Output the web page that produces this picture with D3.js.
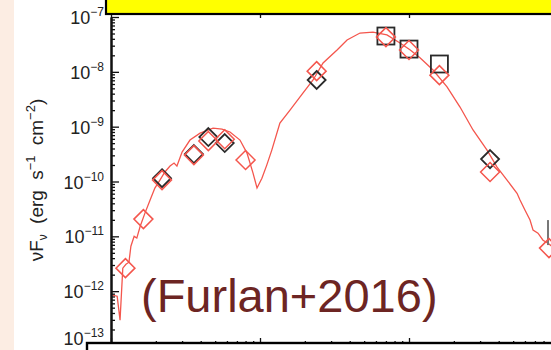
<!doctype html>
<html>
<head>
<meta charset="UTF-8">
<title>sed</title>
<script src="https://d3js.org/d3.v7.min.js"></script>
<style>
  body { margin:0; background:#fff; }
  svg { display:block; font-family:"Liberation Sans", Arial, sans-serif; }
</style>
</head>
<body>
<svg width="551" height="350"></svg>
<script>
// model SED (wavelength in micron, nuFnu in erg s-1 cm-2)
var modelWave = [1.02,1.10,1.15,1.20,1.26,1.32,1.36,1.43,1.49,1.57,1.69,1.83,1.97,2.13,2.30,2.49,2.65,2.77,3.00,3.39,3.96,4.84,5.56,6.29,7.34,8.18,8.98,9.55,10.3,11.1,12.0,13.6,15.9,19.4,22.7,26.5,32.9,38.4,46.9,57.3,71.1,87.0,102,119,145,180,220,269,334,390,455,531,556,601,649,680,734,793,857,925];
var modelFlux = [8.45e-13,8.1e-13,2.96e-13,2.63e-12,3.1e-12,3.38e-12,6.6e-12,1.0e-11,9.3e-12,1.53e-11,2.65e-11,4.58e-11,7.6e-11,1.06e-10,1.49e-10,1.91e-10,2.17e-10,1.91e-10,3.44e-10,5.7e-10,7.6e-10,9.4e-10,9.0e-10,8.0e-10,5.7e-10,3.3e-10,1.42e-10,7.6e-11,1.15e-10,1.99e-10,3.74e-10,1.16e-9,2.01e-9,4.1e-9,7.1e-9,1.45e-8,2.5e-8,3.8e-8,5.1e-8,5.3e-8,4.7e-8,3.36e-8,2.5e-8,1.79e-8,1.08e-8,5.3e-9,2.28e-9,8.7e-10,3.74e-10,1.83e-10,1.06e-10,6.1e-11,4.58e-11,3.0e-11,1.98e-11,1.30e-11,1.14e-11,8.5e-12,7.5e-12,6.3e-12];

// model photometry (red diamonds)
var photWave = [1.25,1.65,2.2,3.6,4.5,5.8,8.0,24,70,100,160,350,870];
var photFlux = [2.63e-12,2.06e-11,1.06e-10,3.03e-10,5.46e-10,5.9e-10,2.46e-10,1.03e-8,4.3e-8,2.5e-8,8.7e-9,1.49e-10,6.1e-12];

// observed photometry
var obsDiaWave = [2.2,3.6,4.5,5.8,24,350];
var obsDiaFlux = [1.15e-10,3.16e-10,6.46e-10,5.02e-10,7.1e-9,2.56e-10];
var obsSqWave = [70,100,160];
var obsSqFlux = [4.5e-8,2.6e-8,1.39e-8];
var limWave = [870];
var limFlux = [1.98e-11];

var yTickExp = [-13,-12,-11,-10,-9,-8,-7];

var svg = d3.select("svg");
var x = d3.scaleLog().domain([1, 1000]).range([111, 558]);
var y = d3.scaleLog().domain([1e-13, 1e-7]).range([346, 17]);

var red = "#f4564d";

// left page strip
svg.append("rect").attr("x",0).attr("y",0).attr("width",14).attr("height",350).attr("fill","#fcede3");

var plot = svg.append("g");
plot.append("clipPath").attr("id","clip").append("rect")
  .attr("x",112).attr("y",0).attr("width",460).attr("height",350);

// minor tick values
var minors = [];
for (var e=-13; e<-7; e++) for (var k=2; k<10; k++) minors.push(k*Math.pow(10,e));
var xMinors = [];
for (var e2=0; e2<3; e2++) for (var k2=2; k2<10; k2++) xMinors.push(k2*Math.pow(10,e2));

function styleAxis(g){
  g.selectAll("path.domain").attr("stroke","#111").attr("stroke-width",2);
  g.selectAll(".tick line").attr("stroke","#111").attr("stroke-width",1.3);
  g.selectAll("text").remove();
}

// x axes (top and bottom), mostly hidden behind boxes
svg.append("g").attr("transform","translate(0,346)")
  .call(d3.axisTop(x).tickValues([1,10,100,1000]).tickSize(8).tickSizeOuter(0)).call(styleAxis);
svg.append("g").attr("transform","translate(0,346)")
  .call(d3.axisTop(x).tickValues(xMinors).tickSize(5).tickSizeOuter(0)).call(styleAxis);
svg.append("g").attr("transform","translate(0,10)")
  .call(d3.axisBottom(x).tickValues([1,10,100,1000]).tickSize(8).tickSizeOuter(0)).call(styleAxis);

// model curve
var line = d3.line().x(function(d){return x(d[0]);}).y(function(d){return y(d[1]);});
plot.append("path")
  .datum(modelWave.map(function(w,i){return [w, modelFlux[i]];}))
  .attr("clip-path","url(#clip)")
  .attr("d", line).attr("fill","none").attr("stroke",red).attr("stroke-width",1.3);

function diamond(r){ return "M0,"+(-r)+"L"+r+",0L0,"+r+"L"+(-r)+",0Z"; }

// observed squares
plot.selectAll("rect.sq").data(obsSqWave).enter().append("rect")
  .attr("class","sq")
  .attr("x", function(d){return x(d)-8.5;})
  .attr("y", function(d,i){return y(obsSqFlux[i])-8.5;})
  .attr("width",17).attr("height",17)
  .attr("fill","none").attr("stroke","#2a2a2a").attr("stroke-width",1.8);

// observed diamonds
plot.selectAll("path.od").data(obsDiaWave).enter().append("path")
  .attr("class","od")
  .attr("transform", function(d,i){return "translate("+x(d)+","+y(obsDiaFlux[i])+")";})
  .attr("d", diamond(9)).attr("fill","none").attr("stroke","#2a2a2a").attr("stroke-width",1.8);

// upper limit
plot.selectAll("line.lim").data(limWave).enter().append("line")
  .attr("class","lim")
  .attr("x1", function(d){return x(d)-1;}).attr("x2", function(d){return x(d)-1;})
  .attr("y1", function(d,i){return y(limFlux[i]);})
  .attr("y2", function(d,i){return y(limFlux[i])+25;})
  .attr("stroke","#777").attr("stroke-width",2);

// model photometry
plot.selectAll("path.md").data(photWave).enter().append("path")
  .attr("class","md")
  .attr("transform", function(d,i){return "translate("+x(d)+","+y(photFlux[i])+")";})
  .attr("d", diamond(9.5)).attr("fill","none").attr("stroke",red).attr("stroke-width",1.5);

// y axis
var yMaj = yTickExp.map(function(e){return Math.pow(10,e);});
svg.append("g").attr("transform","translate(111,0)")
  .call(d3.axisRight(y).tickValues(minors).tickSize(4).tickSizeOuter(0)).call(styleAxis);
svg.append("g").attr("transform","translate(111,0)")
  .call(d3.axisRight(y).tickValues(yMaj).tickSize(8).tickSizeOuter(0)).call(styleAxis);

var lab = svg.selectAll("text.yl").data(yTickExp).enter().append("text")
  .attr("class","yl")
  .attr("x",104).attr("y",function(d){return Math.min(y(Math.pow(10,d))+7, 345);})
  .attr("text-anchor","end").attr("fill","#222").attr("font-size",18);
lab.append("tspan").text("10");
lab.append("tspan").attr("dy",-8).attr("font-size",12).text(function(d){return "\u2212"+(-d);});

// y title
var yt = svg.append("text").attr("transform","translate(43,180) rotate(-90)")
  .attr("text-anchor","middle").attr("fill","#222").attr("font-size",19)
  .attr("word-spacing",5);
yt.append("tspan").text("\u03bdF");
yt.append("tspan").attr("dy",4).attr("font-size",12).text("\u03bd");
yt.append("tspan").attr("dy",-4).text(" (erg s");
yt.append("tspan").attr("dy",-8).attr("font-size",13).text("\u22121");
yt.append("tspan").attr("dy",8).text(" cm");
yt.append("tspan").attr("dy",-8).attr("font-size",13).text("\u22122");
yt.append("tspan").attr("dy",8).text(")");

// yellow title box and bottom box
svg.append("rect").attr("x",106).attr("y",-10).attr("width",460).attr("height",24)
  .attr("fill","#ffff00").attr("stroke","#000").attr("stroke-width",2.2);
svg.append("rect").attr("x",87).attr("y",343).attr("width",480).attr("height",20)
  .attr("fill","#fff").attr("stroke","#000").attr("stroke-width",2.4);

// citation
svg.append("text").attr("x",141).attr("y",312)
  .attr("fill","#6d2523").attr("font-size",47).text("(Furlan+2016)");
</script>
</body>
</html>
